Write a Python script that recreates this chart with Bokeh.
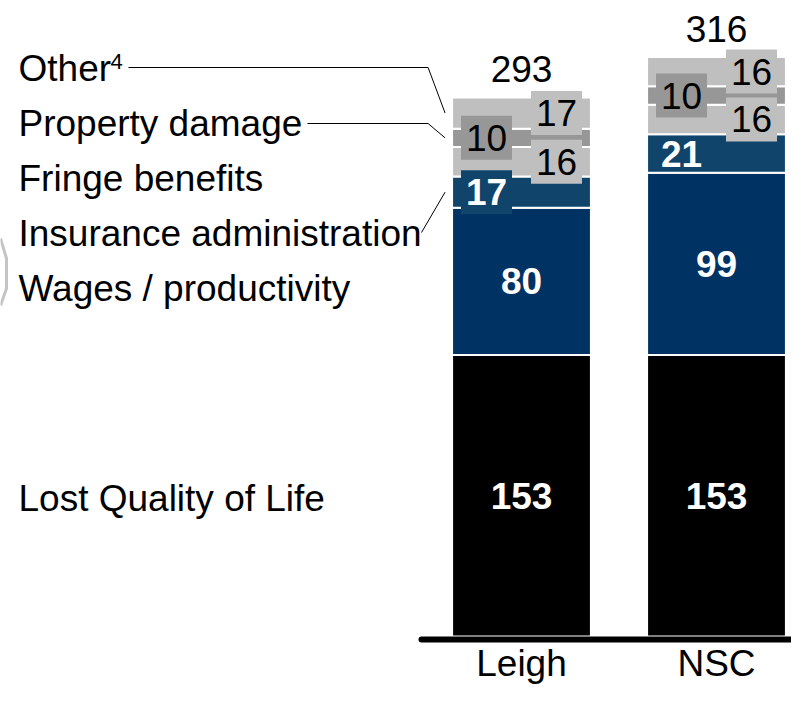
from bokeh.plotting import figure
from bokeh.models import Range1d, Label
from bokeh.core.properties import value
from bokeh.embed import file_html
from bokeh.resources import INLINE

# ---------------- data ----------------
categories = ["Leigh", "NSC"]
lost_quality_of_life = [153, 153]
wages_productivity = [80, 99]
insurance_admin = [17, 21]
fringe_benefits = [16, 16]
property_damage = [10, 10]
other = [17, 16]
totals = [293, 316]

series_names = ["Lost Quality of Life", "Wages / productivity", "Insurance administration",
                "Fringe benefits", "Property damage", "Other"]
series_values = [lost_quality_of_life, wages_productivity, insurance_admin,
                 fringe_benefits, property_damage, other]

# ---------------- style ----------------
W, H = 791, 689
X_PX0, X_PPU = 521, 195.0      # pixel of first category, pixels per category
Y_PX0, Y_PPU = 636, 1.84       # pixel (from top) of zero, pixels per unit
FONT_NAME = "Liberation Sans"
FONT = value(FONT_NAME)
FS = "37px"
colors = ["#000000", "#003263", "#10446b", "#bfbfbf", "#979797", "#bfbfbf"]
label_colors = ["white", "white", "white", "black", "black", "black"]
label_styles = ["bold", "bold", "bold", "normal", "normal", "normal"]
box_side = [0, 0, -1, 1, -1, 1]   # offset side for small-segment labels
BOX_W, BOX_H, BOX_OFF = 51, 44, 35
BAR_W = 0.712

x_start = -X_PX0 / X_PPU
x_end = (W - X_PX0) / X_PPU
y_start = -(H - Y_PX0) / Y_PPU
y_end = Y_PX0 / Y_PPU


def fx(px):
    return (px - X_PX0) / X_PPU


def fy(py):
    return (Y_PX0 - py) / Y_PPU


p = figure(width=W, height=H, output_backend="svg", toolbar_location=None,
           x_range=Range1d(x_start, x_end), y_range=Range1d(y_start, y_end),
           min_border=0, outline_line_color=None)
p.axis.visible = False
p.grid.visible = False
p.background_fill_color = "white"

xs = list(range(len(categories)))

# stacked bars
bottoms = [0] * len(categories)
seg_info = []
for s, vals in enumerate(series_values):
    tops = [b + v for b, v in zip(bottoms, vals)]
    p.vbar(x=xs, bottom=bottoms, top=tops, width=BAR_W, fill_color=colors[s],
           line_color="white", line_width=2)
    seg_info.append((list(bottoms), list(tops), vals))
    bottoms = tops

# baseline
p.segment(x0=[fx(421)], y0=[-3 / Y_PPU], x1=[x_end], y1=[-3 / Y_PPU],
          line_color="black", line_width=6, line_cap="round")

# boxes and labels
for s, (bots, tops, vals) in enumerate(seg_info):
    for i in xs:
        yc = (bots[i] + tops[i]) / 2
        h_px = vals[i] * Y_PPU
        xc = i + box_side[s] * BOX_OFF / X_PPU
        if box_side[s] != 0 and h_px < 35:
            p.rect(x=[xc], y=[yc], width=BOX_W, height=BOX_H,
                   width_units="screen", height_units="screen",
                   fill_color=colors[s], line_color=None)
        p.text(x=[xc], y=[yc], text=[str(vals[i])], text_font=FONT,
               text_font_size=FS, text_font_style=label_styles[s],
               text_color=label_colors[s], text_align="center", text_baseline="middle")

# totals
p.text(x=xs, y=bottoms, text=[str(t) for t in totals], text_font=FONT, text_font_size=FS,
       text_color="black", text_align="center", text_baseline="middle", y_offset=-28)

# category labels
p.text(x=xs, y=[0] * len(xs), text=categories, text_font=FONT, text_font_size=FS,
       text_color="black", text_align="center", text_baseline="middle", y_offset=27)

# legend labels on the left
label_y = [498, 288, 233, 178, 123, 68]
for s, name in enumerate(series_names):
    p.add_layout(Label(x=18, y=H - label_y[s], x_units="screen", y_units="screen",
                       text=name, text_font=FONT_NAME, text_font_size=FS, text_color="black",
                       text_baseline="middle", text_align="left"))
p.add_layout(Label(x=110, y=H - 61, x_units="screen", y_units="screen",
                   text="4", text_font=FONT_NAME, text_font_size="22px", text_color="black",
                   text_baseline="middle", text_align="left"))

# leader lines
left_edge = 0 - BAR_W / 2
tip_x = left_edge - 7 / X_PPU
elbow_x = left_edge - 24 / X_PPU
b_other = seg_info[5]
b_prop = seg_info[4]
b_ins = seg_info[2]
p.line(x=[fx(128), elbow_x, tip_x], y=[fy(67), fy(67), (b_other[0][0] + b_other[1][0]) / 2],
       line_color="black", line_width=1)
p.line(x=[fx(307), elbow_x, tip_x], y=[fy(123), fy(123), (b_prop[0][0] + b_prop[1][0]) / 2],
       line_color="black", line_width=1)
p.line(x=[fx(421), tip_x], y=[fy(232), (b_ins[0][0] + b_ins[1][0]) / 2],
       line_color="black", line_width=1)

# cropped bracket fragment at the left edge
p.line(x=[fx(0), fx(6), fx(6), fx(0)], y=[fy(238), fy(258), fy(288), fy(305)],
       line_color="#c4c4c4", line_width=3)

open("out.html", "w").write(file_html(p, INLINE))
